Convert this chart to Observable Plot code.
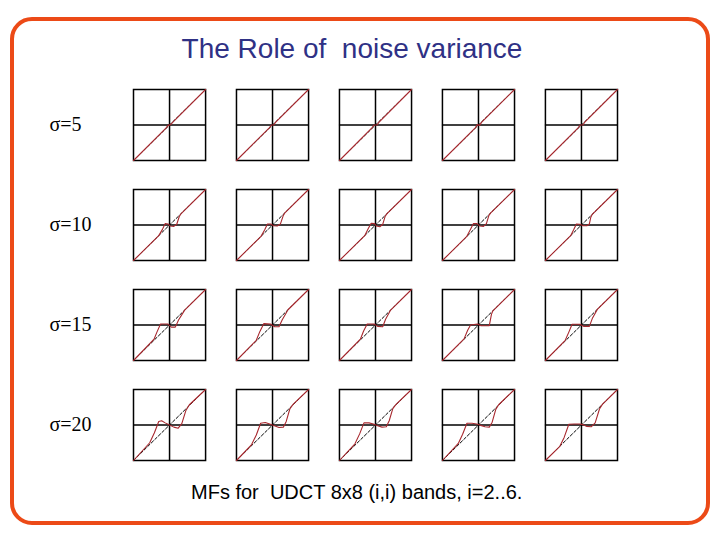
<!DOCTYPE html>
<html>
<head>
<meta charset="utf-8">
<script src="https://cdn.jsdelivr.net/npm/d3@7"></script>
<script src="https://cdn.jsdelivr.net/npm/@observablehq/plot@0.6"></script>
<style>
  html, body { margin: 0; padding: 0; background: #fff; }
  #page { position: relative; width: 720px; height: 540px; overflow: hidden; background: #fff; }
  #border { position: absolute; left: 10px; top: 17px; width: 692px; height: 500px;
            border: 4px solid #ec4a17; border-radius: 22px; }
  #title { position: absolute; left: 0; width: 704px; top: 33px; text-align: center;
           font-family: "Liberation Sans", Arial, sans-serif; font-size: 28px; color: #2f3185; white-space: pre; }
  #caption { position: absolute; left: 191px; top: 481px;
             font-family: "Liberation Sans", Arial, sans-serif; font-size: 20px; color: #000; white-space: pre; }
  #chart { position: absolute; left: 0; top: 0; }
</style>
</head>
<body>
<div id="page">
  <div id="border"></div>
  <div id="chart"></div>
  <div id="title">The Role of  noise variance</div>
  <div id="caption">MFs for  UDCT 8x8 (i,i) bands, i=2..6.</div>
</div>
<script>
// Bands (i,i), i = 2..6 (columns) and noise levels (rows)
const bands = [2, 3, 4, 5, 6];
const sigmas = [5, 10, 15, 20];
const rowLabels = ["σ=5", "σ=10", "σ=15", "σ=20"];

// Mapping functions, one list of [x, y] per band, for each sigma
const mfSigma5 = [
  [[-1,-1],[-0.1,-0.09],[-0.04,-0.01],[0.03,0.01],[0.1,0.09],[1,1]],
  [[-1,-1],[-0.09,-0.08],[-0.03,0.0],[0.03,0.0],[0.09,0.08],[1,1]],
  [[-1,-1],[-0.1,-0.08],[-0.04,0.0],[0.04,0.0],[0.1,0.08],[1,1]],
  [[-1,-1],[-0.09,-0.08],[-0.03,0.01],[0.03,-0.01],[0.09,0.08],[1,1]],
  [[-1,-1],[-0.1,-0.09],[-0.04,0.0],[0.04,0.0],[0.1,0.09],[1,1]]
];
const mfSigma10 = [
  [[-1,-1],[-0.3,-0.3],[-0.2,-0.13],[-0.12,0.04],[-0.04,0.03],[0.02,-0.03],[0.12,-0.04],[0.2,0.02],[0.27,0.24],[0.33,0.33],[1,1]],
  [[-1,-1],[-0.32,-0.32],[-0.22,-0.14],[-0.14,0.03],[-0.05,0.03],[0.03,-0.02],[0.13,-0.03],[0.22,0.03],[0.3,0.27],[0.35,0.35],[1,1]],
  [[-1,-1],[-0.3,-0.3],[-0.2,-0.1],[-0.12,0.05],[-0.03,0.04],[0.03,-0.03],[0.12,-0.05],[0.2,0.02],[0.27,0.25],[0.32,0.32],[1,1]],
  [[-1,-1],[-0.33,-0.33],[-0.22,-0.12],[-0.14,0.04],[-0.04,0.04],[0.04,-0.03],[0.14,-0.04],[0.22,0.04],[0.29,0.27],[0.34,0.34],[1,1]],
  [[-1,-1],[-0.3,-0.3],[-0.22,-0.14],[-0.14,0.03],[-0.05,0.02],[0.05,-0.02],[0.15,-0.02],[0.22,0.03],[0.26,0.22],[0.3,0.3],[1,1]]
];
const mfSigma15 = [
  [[-1,-1],[-0.43,-0.4],[-0.35,-0.2],[-0.25,0.03],[-0.05,0.03],[0.05,-0.06],[0.16,-0.06],[0.25,0.14],[0.42,0.42],[1,1]],
  [[-1,-1],[-0.45,-0.43],[-0.35,-0.18],[-0.24,0.04],[-0.06,0.03],[0.06,-0.05],[0.18,-0.05],[0.27,0.15],[0.43,0.43],[1,1]],
  [[-1,-1],[-0.42,-0.4],[-0.33,-0.17],[-0.23,0.03],[-0.04,0.03],[0.06,-0.04],[0.2,-0.05],[0.28,0.16],[0.42,0.42],[1,1]],
  [[-1,-1],[-0.4,-0.39],[-0.3,-0.15],[-0.22,0.0],[-0.03,0.03],[0.07,-0.02],[0.3,-0.02],[0.36,0.3],[0.4,0.4],[1,1]],
  [[-1,-1],[-0.45,-0.43],[-0.35,-0.2],[-0.26,0.02],[-0.05,0.02],[0.07,-0.04],[0.22,-0.04],[0.3,0.18],[0.44,0.44],[1,1]]
];
const mfSigma20 = [
  [[-1,-1],[-0.55,-0.5],[-0.42,-0.22],[-0.3,0.1],[-0.22,0.12],[-0.12,0.06],[0,0],[0.12,-0.06],[0.24,-0.09],[0.34,0.04],[0.45,0.4],[0.55,0.57],[1,1]],
  [[-1,-1],[-0.58,-0.55],[-0.45,-0.28],[-0.33,0.05],[-0.2,0.07],[-0.08,0.03],[0.05,-0.02],[0.18,-0.07],[0.3,-0.06],[0.38,0.1],[0.48,0.45],[0.57,0.58],[1,1]],
  [[-1,-1],[-0.57,-0.53],[-0.44,-0.25],[-0.32,0.06],[-0.18,0.06],[-0.06,0.03],[0.06,-0.02],[0.18,-0.06],[0.3,-0.05],[0.38,0.12],[0.48,0.46],[0.57,0.58],[1,1]],
  [[-1,-1],[-0.56,-0.52],[-0.44,-0.26],[-0.32,0.05],[-0.18,0.05],[-0.05,0.03],[0.06,-0.01],[0.18,-0.05],[0.3,-0.06],[0.38,0.08],[0.48,0.44],[0.56,0.57],[1,1]],
  [[-1,-1],[-0.6,-0.6],[-0.48,-0.35],[-0.35,0.02],[-0.2,0.03],[-0.05,0.03],[0.05,0.01],[0.15,-0.04],[0.27,-0.05],[0.38,0.06],[0.5,0.45],[0.58,0.58],[1,1]]
];
const identity = [[-1,-1],[1,1]];

const allMF = [mfSigma5, mfSigma10, mfSigma15, mfSigma20];
const curves = [];
allMF.forEach((rows, si) => {
  rows.forEach((pts, bi) => {
    pts.forEach(([x, y]) => curves.push({sigma: sigmas[si], band: bands[bi], key: si + "-" + bi, x, y}));
  });
});
const labels = sigmas.map((s, i) => ({sigma: s, band: bands[0], text: rowLabels[i]}));

const chart = Plot.plot({
  width: 720,
  height: 540,
  marginLeft: 133,
  marginRight: 103,
  marginTop: 89,
  marginBottom: 80,
  style: {background: "transparent", overflow: "visible"},
  fx: {domain: bands, paddingInner: 0.3, paddingOuter: 0, round: false, axis: null},
  fy: {domain: sigmas, paddingInner: 0.29, paddingOuter: 0, round: false, axis: null},
  x: {domain: [-1, 1], axis: null},
  y: {domain: [-1, 1], axis: null},
  marks: [
    Plot.frame({stroke: "black", strokeWidth: 1.5}),
    Plot.ruleX([0], {stroke: "black", strokeWidth: 1.5}),
    Plot.ruleY([0], {stroke: "black", strokeWidth: 1.5}),
    Plot.line(identity, {x: d => d[0], y: d => d[1], stroke: "black", strokeWidth: 1, strokeDasharray: "3,2"}),
    Plot.line(curves, {x: "x", y: "y", z: "key", fx: "band", fy: "sigma", stroke: "#a8282e", strokeWidth: 1.1}),
    Plot.text(labels, {fx: "band", fy: "sigma", text: "text", frameAnchor: "left", dx: -84, textAnchor: "start",
      fontFamily: "'Liberation Serif', 'Times New Roman', serif", fontSize: 20, fill: "black"})
  ]
});
document.getElementById("chart").append(chart);
</script>
</body>
</html>
